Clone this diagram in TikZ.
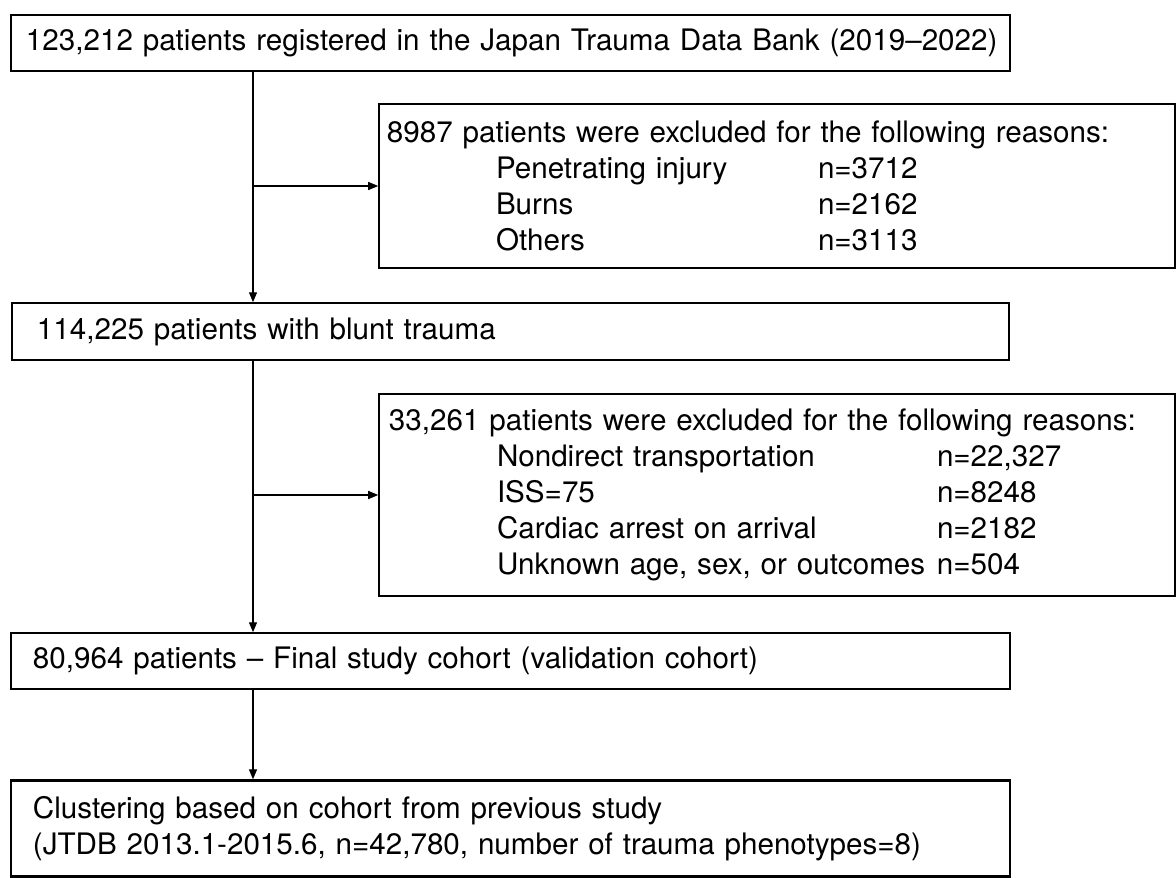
\documentclass[tikz,border=0pt]{standalone}
\usepackage{fontspec}
\setmainfont{TeX Gyre Heros}
\usepackage{tikz}
\usetikzlibrary{positioning, arrows.meta}

\newcommand{\flowfont}{\fontsize{29.6bp}{36bp}\selectfont}

\begin{document}
\begin{tikzpicture}[
    x=1bp, y=-1bp,
    box/.style={draw, line width=1.5bp, inner ysep=0pt, align=left,
                font=\flowfont},
    arrow/.style={-{Triangle[length=10bp, width=8bp]}, line width=1.3bp},
]
\useasboundingbox (0,0) rectangle (1176,878);

\node[box, inner xsep=15bp, text width=969bp, minimum height=56bp] (reg) at (510.5, 43)
    {\mbox{123,212 patients registered in the Japan Trauma Data Bank (2019--2022)}};
\node[box, inner xsep=8bp, text width=780bp, minimum height=164bp] (excl1) at (777, 186)
    {8987 patients were excluded for the following reasons:\\
     \hspace*{109bp}\makebox[322bp][l]{Penetrating injury}n=3712\\
     \hspace*{109bp}\makebox[322bp][l]{Burns}n=2162\\
     \hspace*{109bp}\makebox[322bp][l]{Others}n=3113};
\node[box, inner xsep=25bp, text width=947bp, minimum height=57bp] (blunt) at (510.5, 331.5)
    {114,225 patients with blunt trauma};
\node[box, inner xsep=10bp, text width=776bp, minimum height=202bp] (excl2) at (777, 495)
    {33,261 patients were excluded for the following reasons:\\
     \hspace*{108bp}\makebox[440bp][l]{Nondirect transportation}n=22,327\\
     \hspace*{108bp}\makebox[440bp][l]{ISS=75}n=8248\\
     \hspace*{108bp}\makebox[440bp][l]{Cardiac arrest on arrival}n=2182\\
     \hspace*{108bp}\makebox[440bp][l]{Unknown age, sex, or outcomes}n=504};
\node[box, inner xsep=22bp, text width=955bp, minimum height=56bp] (final) at (510.5, 661)
    {\mbox{80,964 patients -- Final study cohort (validation cohort)}};
\node[box, line width=2.4bp, inner xsep=22bp, text width=955bp, minimum height=96bp] (clust) at (510.5, 828.5)
    {\mbox{Clustering based on cohort from previous study}\\
     \mbox{(JTDB 2013.1-2015.6, n=42,780, number of trauma phenotypes=8)}};

% Trunk and side branches
\coordinate (j1) at (253, 186);
\coordinate (j2) at (253, 495);

\draw[arrow] (reg.south -| j1) -- (blunt.north -| j1);
\draw[arrow] (j1) -- (j1 -| excl1.west);
\draw[arrow] (blunt.south -| j2) -- (final.north -| j2);
\draw[arrow] (j2) -- (j2 -| excl2.west);
\draw[arrow] (final.south -| j2) -- (clust.north -| j2);
\end{tikzpicture}
\end{document}
